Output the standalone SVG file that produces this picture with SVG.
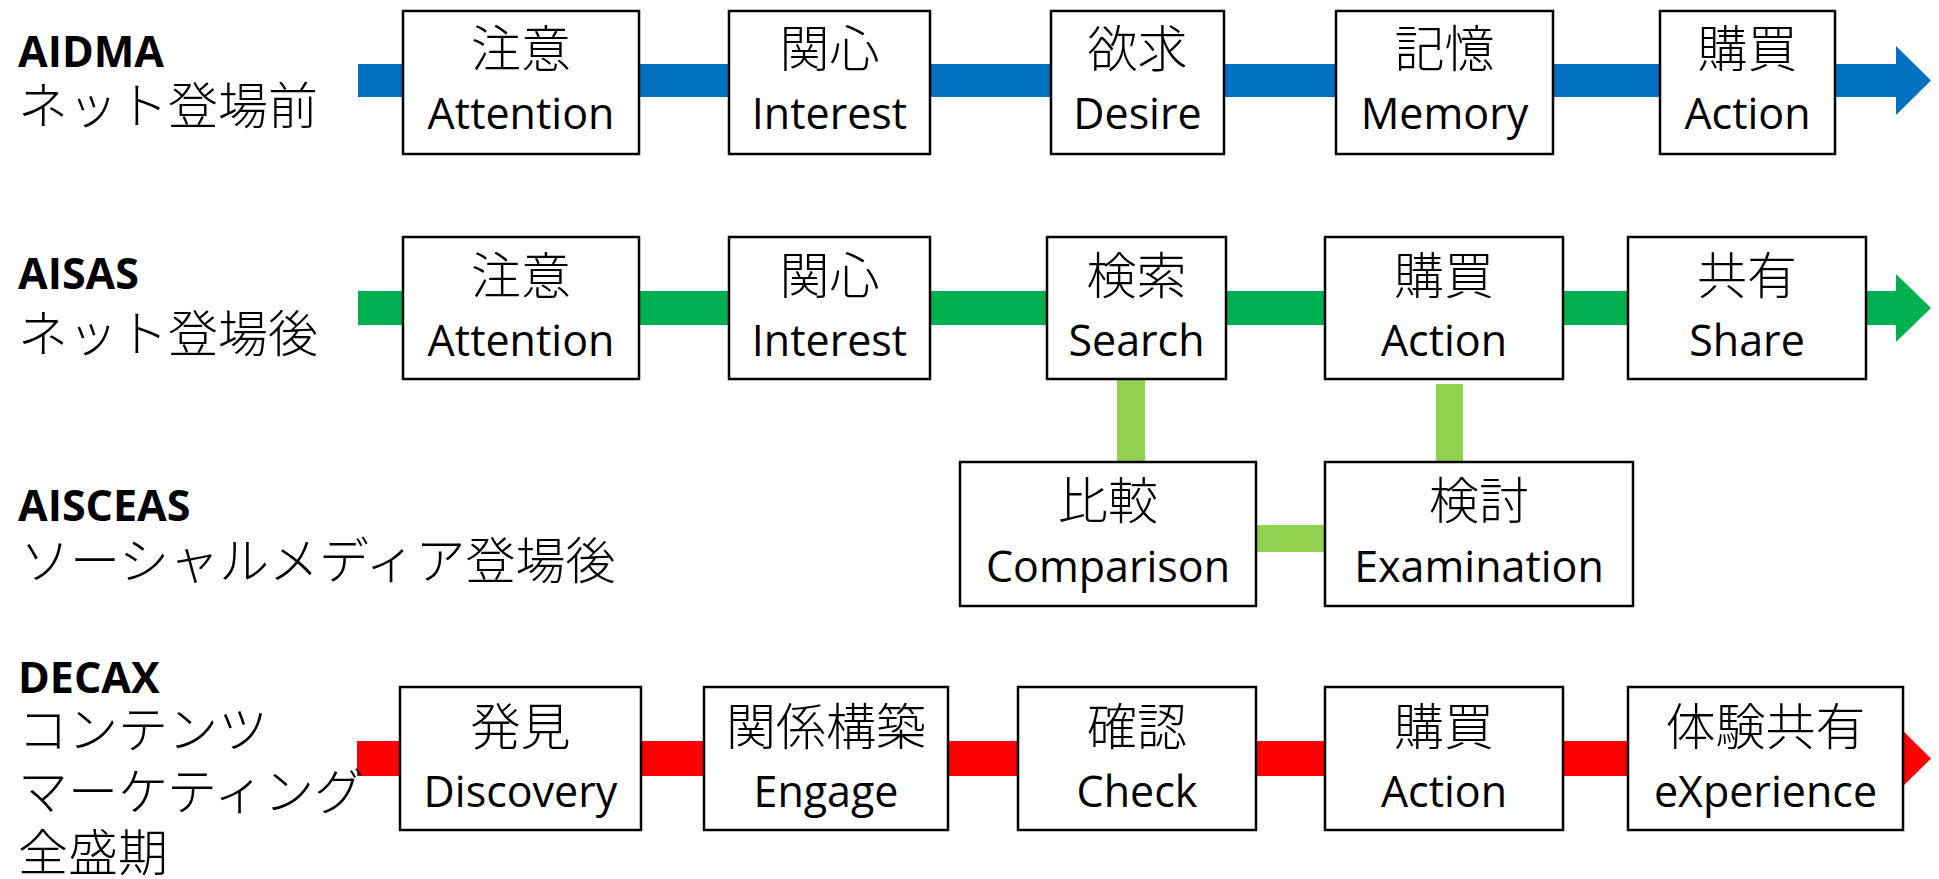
<svg xmlns="http://www.w3.org/2000/svg" width="1939" height="879" viewBox="0 0 1939 879">
  <style>
    .box { fill: #ffffff; stroke: #000000; stroke-width: 2.5; }
    .jp { font-family: "Noto Sans CJK JP", sans-serif; font-size: 50px; font-weight: 300; fill: #000; }
    .en { font-family: "Open Sans", "Liberation Sans", sans-serif; font-size: 43px; fill: #000; }
    .title { font-family: "Open Sans", "Liberation Sans", sans-serif; font-size: 43px; font-weight: 700; fill: #000; }
    .mid { text-anchor: middle; }
    .blue { fill: #0070C0; }
    .green { fill: #00B050; }
    .lime { fill: #92D050; }
    .red { fill: #FF0000; }
  </style>

  <!-- flow bars and links, drawn beneath the step boxes -->
  <g id="connectors">
    <rect class="blue" x="358" y="64" width="1540" height="33"/>
    <polygon class="blue" points="1896,46 1931,80.5 1896,115"/>

    <rect class="green" x="358" y="291" width="1540" height="34"/>
    <polygon class="green" points="1896,274 1931,308 1896,342"/>

    <rect class="lime" x="1117" y="379" width="28" height="84"/>
    <rect class="lime" x="1436" y="384" width="27" height="79"/>
    <rect class="lime" x="1255" y="525" width="71" height="27"/>

    <rect class="red" x="357" y="741" width="1541" height="35"/>
    <polygon class="red" points="1896,724 1931,758.5 1896,793"/>
  </g>

  <!-- row labels -->
  <g id="label-aidma">
    <text class="title" x="18" y="67">AIDMA</text>
    <text class="jp" x="18" y="124">ネット登場前</text>
  </g>
  <g id="label-aisas">
    <text class="title" x="18" y="289">AISAS</text>
    <text class="jp" x="18" y="352">ネット登場後</text>
  </g>
  <g id="label-aisceas">
    <text class="title" x="18" y="521">AISCEAS</text>
    <text class="jp" x="20" y="579">ソーシャルメディア登場後</text>
  </g>
  <g id="label-decax">
    <text class="title" x="18" y="693">DECAX</text>
    <text class="jp" x="18" y="748">コンテンツ</text>
    <text class="jp" x="18" y="810">マーケティング</text>
    <text class="jp" x="18" y="871">全盛期</text>
  </g>

  <!-- AIDMA steps -->
  <g id="aidma-attention">
    <rect class="box" x="403" y="11" width="236" height="143"/>
    <text class="jp mid" x="521" y="67">注意</text>
    <text class="en mid" x="521" y="129">Attention</text>
  </g>
  <g id="aidma-interest">
    <rect class="box" x="729" y="11" width="201" height="143"/>
    <text class="jp mid" x="829.5" y="67">関心</text>
    <text class="en mid" x="829.5" y="129">Interest</text>
  </g>
  <g id="aidma-desire">
    <rect class="box" x="1051" y="11" width="173" height="143"/>
    <text class="jp mid" x="1137.5" y="67">欲求</text>
    <text class="en mid" x="1137.5" y="129">Desire</text>
  </g>
  <g id="aidma-memory">
    <rect class="box" x="1336" y="11" width="217" height="143"/>
    <text class="jp mid" x="1444.5" y="67">記憶</text>
    <text class="en mid" x="1444.5" y="129">Memory</text>
  </g>
  <g id="aidma-action">
    <rect class="box" x="1660" y="11" width="175" height="143"/>
    <text class="jp mid" x="1747.5" y="67">購買</text>
    <text class="en mid" x="1747.5" y="129">Action</text>
  </g>

  <!-- AISAS steps -->
  <g id="aisas-attention">
    <rect class="box" x="403" y="237" width="236" height="142"/>
    <text class="jp mid" x="521" y="294">注意</text>
    <text class="en mid" x="521" y="356">Attention</text>
  </g>
  <g id="aisas-interest">
    <rect class="box" x="729" y="237" width="201" height="142"/>
    <text class="jp mid" x="829.5" y="294">関心</text>
    <text class="en mid" x="829.5" y="356">Interest</text>
  </g>
  <g id="aisas-search">
    <rect class="box" x="1047" y="237" width="179" height="142"/>
    <text class="jp mid" x="1136.5" y="294">検索</text>
    <text class="en mid" x="1136.5" y="356">Search</text>
  </g>
  <g id="aisas-action">
    <rect class="box" x="1325" y="237" width="238" height="142"/>
    <text class="jp mid" x="1444" y="294">購買</text>
    <text class="en mid" x="1444" y="356">Action</text>
  </g>
  <g id="aisas-share">
    <rect class="box" x="1628" y="237" width="238" height="142"/>
    <text class="jp mid" x="1747" y="294">共有</text>
    <text class="en mid" x="1747" y="356">Share</text>
  </g>

  <!-- AISCEAS extra steps -->
  <g id="aisceas-comparison">
    <rect class="box" x="960" y="462" width="296" height="144"/>
    <text class="jp mid" x="1108" y="519">比較</text>
    <text class="en mid" x="1108" y="582">Comparison</text>
  </g>
  <g id="aisceas-examination">
    <rect class="box" x="1325" y="462" width="308" height="144"/>
    <text class="jp mid" x="1479" y="519">検討</text>
    <text class="en mid" x="1479" y="582">Examination</text>
  </g>

  <!-- DECAX steps -->
  <g id="decax-discovery">
    <rect class="box" x="400" y="687" width="241" height="143"/>
    <text class="jp mid" x="520.5" y="745">発見</text>
    <text class="en mid" x="520.5" y="807">Discovery</text>
  </g>
  <g id="decax-engage">
    <rect class="box" x="704" y="687" width="244" height="143"/>
    <text class="jp mid" x="826" y="745">関係構築</text>
    <text class="en mid" x="826" y="807">Engage</text>
  </g>
  <g id="decax-check">
    <rect class="box" x="1018" y="687" width="238" height="143"/>
    <text class="jp mid" x="1137" y="745">確認</text>
    <text class="en mid" x="1137" y="807">Check</text>
  </g>
  <g id="decax-action">
    <rect class="box" x="1325" y="687" width="238" height="143"/>
    <text class="jp mid" x="1444" y="745">購買</text>
    <text class="en mid" x="1444" y="807">Action</text>
  </g>
  <g id="decax-experience">
    <rect class="box" x="1628" y="687" width="275" height="143"/>
    <text class="jp mid" x="1765.5" y="745">体験共有</text>
    <text class="en mid" x="1765.5" y="807">eXperience</text>
  </g>
</svg>
